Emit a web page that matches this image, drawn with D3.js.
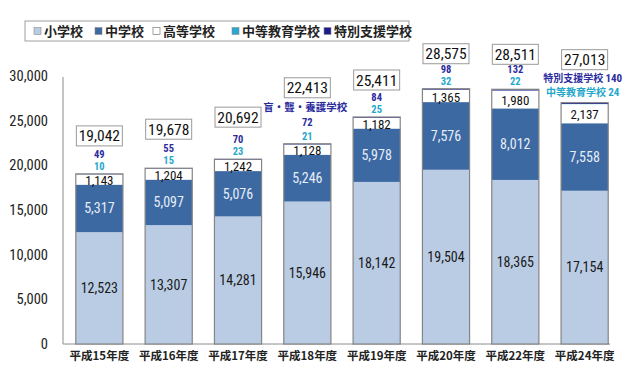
<!DOCTYPE html>
<html>
<head>
<meta charset="utf-8">
<script src="https://cdn.jsdelivr.net/npm/d3@7"></script>
<style>
  body { margin: 0; background: #fff; }
  svg { display: block; }
  .num { font-family: "Liberation Sans Narrow", "Roboto Condensed", "Liberation Sans", sans-serif; }
  .jp { font-family: "Noto Sans CJK JP", "Noto Sans", sans-serif; }
</style>
</head>
<body>
<div id="chart"></div>
<script>
// data
var years = ["平成15年度", "平成16年度", "平成17年度", "平成18年度", "平成19年度", "平成20年度", "平成22年度", "平成24年度"];
var shogakko  = [12523, 13307, 14281, 15946, 18142, 19504, 18365, 17154];
var chugakko  = [5317, 5097, 5076, 5246, 5978, 7576, 8012, 7558];
var koto      = [1143, 1204, 1242, 1128, 1182, 1365, 1980, 2137];
var chuto     = [10, 15, 23, 21, 25, 32, 22, 24];
var tokubetsu = [49, 55, 70, 72, 84, 98, 132, 140];
var totals    = [19042, 19678, 20692, 22413, 25411, 28575, 28511, 27013];
var seriesNames = ["小学校", "中学校", "高等学校", "中等教育学校", "特別支援学校"];
var yTicks = [0, 5000, 10000, 15000, 20000, 25000, 30000];

// how far the total box sits above each bar (px)
var boxLift = [38, 39, 42, 56, 37, 35, 35, 43];

var colors = ["#b9cce4", "#3d69a3", "#ffffff", "#2aa6d2", "#1c1c8c"];
var textColors = ["#1a1a1a", "#e6eef8", "#111111"];
var textSizes = ["14px", "14px", "13px"];
var navyText = "#2b2b9e", cyanText = "#25a7cc";

var width = 640, height = 382;
var format = d3.format(",");

var svg = d3.select("#chart").append("svg")
    .attr("width", width)
    .attr("height", height);

var x = d3.scaleBand()
    .domain(years)
    .range([64, 620])
    .paddingInner(0.32)
    .paddingOuter(0.17);

var y = d3.scaleLinear()
    .domain([0, 30000])
    .range([344, 76]);

var rows = years.map(function(yr, i) {
  return { year: yr, "小学校": shogakko[i], "中学校": chugakko[i], "高等学校": koto[i],
           "中等教育学校": chuto[i], "特別支援学校": tokubetsu[i], total: totals[i], i: i };
});
var stacked = d3.stack().keys(seriesNames)(rows);

////////// axes //////////
var yAxis = svg.append("g")
    .attr("transform", "translate(63,0)")
    .call(d3.axisLeft(y).tickValues(yTicks).tickFormat(format).tickSize(0).tickPadding(15));
yAxis.select(".domain").attr("stroke", "#8c8c8c").attr("d", "M0,77V344");
yAxis.selectAll("text")
    .attr("class", "num")
    .style("font-size", "14.5px")
    .attr("fill", "#222");

var xAxis = svg.append("g")
    .attr("transform", "translate(0,344)")
    .call(d3.axisBottom(x).tickSize(0).tickPadding(8));
xAxis.select(".domain").attr("stroke", "#8c8c8c").attr("d", "M63,0H610");
xAxis.selectAll("text")
    .attr("class", "jp")
    .style("font-size", "11.5px")
    .style("font-weight", "bold")
    .attr("fill", "#222");

////////// bars //////////
var layers = svg.append("g").selectAll("g")
    .data(stacked)
  .enter().append("g")
    .attr("fill", function(d, k) { return colors[k]; });

layers.selectAll("rect")
    .data(function(d) { return d; })
  .enter().append("rect")
    .attr("x", function(d) { return x(d.data.year); })
    .attr("width", x.bandwidth())
    .attr("y", function(d) { return y(d[1]); })
    .attr("height", function(d) { return y(d[0]) - y(d[1]); });

// bar outlines
svg.append("g").selectAll("rect")
    .data(rows)
  .enter().append("rect")
    .attr("x", function(d) { return x(d.year); })
    .attr("width", x.bandwidth())
    .attr("y", function(d) { return y(d.total); })
    .attr("height", function(d) { return y(0) - y(d.total); })
    .attr("fill", "none")
    .attr("stroke", "#858585")
    .attr("stroke-width", 1.2);

// segment labels for the three big series
stacked.slice(0, 3).forEach(function(layer, k) {
  svg.append("g").selectAll("text")
      .data(layer)
    .enter().append("text")
      .attr("class", "num")
      .attr("x", function(d) { return x(d.data.year) + x.bandwidth() / 2; })
      .attr("y", function(d) { return (y(d[0]) + y(d[1])) / 2 + (k === 2 ? 1 : 0); })
      .attr("dy", "0.36em")
      .attr("text-anchor", "middle")
      .style("font-size", textSizes[k])
      .attr("fill", textColors[k])
      .text(function(d) { return format(d[1] - d[0]); });
});

////////// totals in boxes //////////
var boxes = svg.append("g").selectAll("g")
    .data(rows)
  .enter().append("g")
    .attr("transform", function(d) {
      return "translate(" + (x(d.year) + x.bandwidth() / 2) + "," + (y(d.total) - boxLift[d.i]) + ")";
    });
boxes.append("rect")
    .attr("x", -23).attr("y", -10)
    .attr("width", 46).attr("height", 20)
    .attr("fill", "#fff")
    .attr("stroke", "#9a9a9a");
boxes.append("text")
    .attr("class", "num")
    .attr("text-anchor", "middle")
    .attr("dy", "0.36em")
    .style("font-size", "15.5px")
    .attr("fill", "#111")
    .text(function(d) { return format(d.total); });

////////// small series labels //////////
var small = rows.filter(function(d) { return d.i < 7; });
svg.append("g").selectAll("text")
    .data(small)
  .enter().append("text")
    .attr("class", "num")
    .attr("x", function(d) { return x(d.year) + x.bandwidth() / 2; })
    .attr("y", function(d) { return y(d.total) - (d.i === 3 ? 22 : 20); })
    .attr("dy", "0.36em")
    .attr("text-anchor", "middle")
    .style("font-size", "10.5px")
    .style("font-weight", "bold")
    .attr("fill", navyText)
    .text(function(d) { return tokubetsu[d.i]; });

svg.append("g").selectAll("text")
    .data(small)
  .enter().append("text")
    .attr("class", "num")
    .attr("x", function(d) { return x(d.year) + x.bandwidth() / 2; })
    .attr("y", function(d) { return y(d.total) - 8; })
    .attr("dy", "0.36em")
    .attr("text-anchor", "middle")
    .style("font-size", "10.5px")
    .style("font-weight", "bold")
    .attr("fill", cyanText)
    .text(function(d) { return chuto[d.i]; });

// H18 note (old school type name)
svg.append("text")
    .attr("class", "jp")
    .attr("x", x(years[3]) + x.bandwidth() / 2 - 2)
    .attr("y", y(totals[3]) - 37)
    .attr("dy", "0.36em")
    .attr("text-anchor", "middle")
    .style("font-size", "10.5px")
    .style("font-weight", "bold")
    .attr("fill", navyText)
    .text("盲・聾・養護学校");

// last bar: labelled with series names
var last = years.length - 1;
var lastX = x(years[last]) + x.bandwidth() / 2 - 2;
[[seriesNames[4], tokubetsu[last], 24, navyText], [seriesNames[3], chuto[last], 10, cyanText]].forEach(function(r) {
  var t = svg.append("text")
      .attr("class", "jp")
      .attr("x", lastX)
      .attr("y", y(totals[last]) - r[2])
      .attr("dy", "0.36em")
      .attr("text-anchor", "middle")
      .style("font-size", "10px")
      .style("font-weight", "bold")
      .attr("fill", r[3]);
  t.append("tspan").text(r[0] + " ");
  t.append("tspan").attr("class", "num").style("font-size", "11px").text(r[1]);
});

////////// legend //////////
var legend = svg.append("g");
legend.append("rect")
    .attr("x", 25).attr("y", 21)
    .attr("width", 384).attr("height", 20)
    .attr("fill", "#fff")
    .attr("stroke", "#a0a0a0");

var legendX = [34, 95, 153, 232, 324];
var items = legend.selectAll("g.item")
    .data(seriesNames)
  .enter().append("g")
    .attr("class", "item")
    .attr("transform", function(d, k) { return "translate(" + legendX[k] + ",31)"; });
items.append("rect")
    .attr("x", 0).attr("y", -3.5)
    .attr("width", 7).attr("height", 7)
    .attr("fill", function(d, k) { return colors[k]; })
    .attr("stroke", function(d, k) { return k === 2 ? "#666" : "#8a8a8a"; })
    .attr("stroke-width", 0.6);
items.append("text")
    .attr("class", "jp")
    .attr("x", 10)
    .attr("dy", "0.36em")
    .style("font-size", "13px")
    .style("font-weight", "bold")
    .attr("fill", "#222")
    .text(function(d) { return d; });
</script>
</body>
</html>
